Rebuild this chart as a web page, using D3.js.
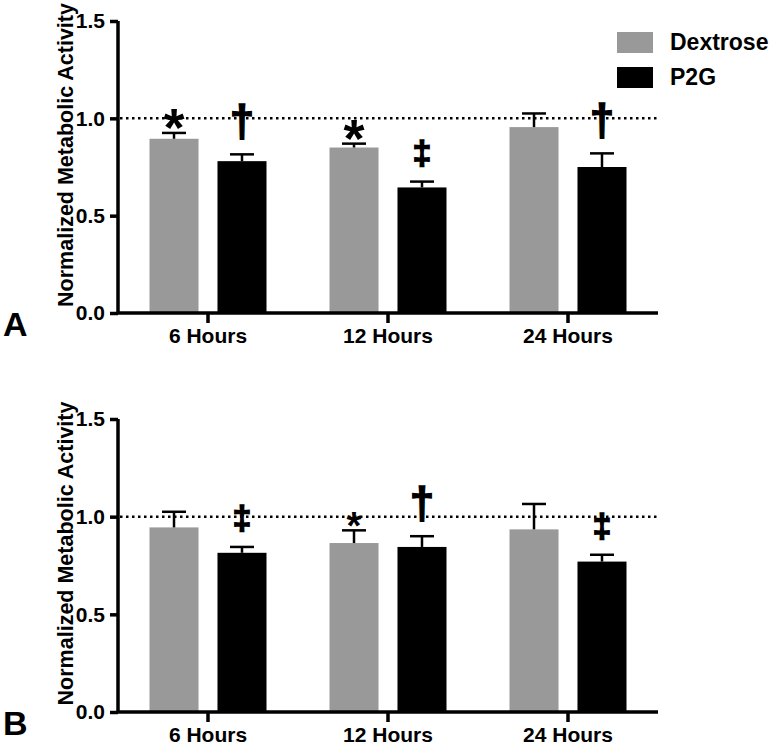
<!DOCTYPE html>
<html><head><meta charset="utf-8">
<script src="https://cdn.jsdelivr.net/npm/d3@7"></script>
<style>body{margin:0;background:#fff}svg{display:block}text{font-family:"Liberation Sans",Arial,sans-serif;font-weight:bold}</style>
</head><body><svg id="c" width="774" height="748"></svg>
<script>
const categories = ["6 Hours", "12 Hours", "24 Hours"];
const series = ["Dextrose", "P2G"];
const yTicks = [0, 0.5, 1.0, 1.5];
const panelLabels = ["A", "B"];
// Panel A
const dextroseA = [0.895, 0.85, 0.955];
const dextroseErrA = [0.03, 0.02, 0.07];
const p2gA = [0.78, 0.645, 0.75];
const p2gErrA = [0.035, 0.03, 0.07];
const dextroseMarkA = ["*", "*", ""];
const p2gMarkA = ["†", "‡", "†"];
// Panel B
const dextroseB = [0.945, 0.865, 0.935];
const dextroseErrB = [0.08, 0.065, 0.13];
const p2gB = [0.815, 0.845, 0.77];
const p2gErrB = [0.03, 0.055, 0.035];
const dextroseMarkB = ["", "*", ""];
const p2gMarkB = ["‡", "†", "‡"];

const colors = {"Dextrose": "#999999", "P2G": "#000000"};
const svg = d3.select("#c");
const FONT = "Liberation Sans, Arial, sans-serif";

function panel(top, bottom, vals, errs, marks, label, bigStar) {
  const y = d3.scaleLinear().domain([0, 1.5]).range([bottom, top]);
  const x = d3.scaleBand().domain(categories).range([118, 658]).padding(0);
  const xs = d3.scaleBand().domain(series).range([31.5, 148.5]).paddingInner(0.279);
  const g = svg.append("g");
  g.append("line").attr("x1", 120).attr("x2", 658).attr("y1", y(1)).attr("y2", y(1))
    .attr("stroke", "#000").attr("stroke-width", 2.5).attr("stroke-dasharray", "2.5,3.5");
  categories.forEach((c, i) => {
    series.forEach((s, j) => {
      const v = vals[j][i], e = errs[j][i];
      const bx = x(c) + xs(s), bw = xs.bandwidth(), cx = bx + bw / 2;
      g.append("rect").attr("x", bx).attr("y", y(v)).attr("width", bw).attr("height", y(0) - y(v))
        .attr("fill", colors[s]);
      g.append("line").attr("x1", cx).attr("x2", cx).attr("y1", y(v)).attr("y2", y(v + e))
        .attr("stroke", "#000").attr("stroke-width", 2.5);
      g.append("line").attr("x1", cx - 12).attr("x2", cx + 12).attr("y1", y(v + e)).attr("y2", y(v + e))
        .attr("stroke", "#000").attr("stroke-width", 2.5);
      const m = marks[j][i];
      if (m) {
        const t = g.append("text").attr("x", cx).attr("text-anchor", "middle").text(m);
        if (m === "*") {
          const fs = bigStar ? 54 : 38;
          t.attr("y", y(v + e) - 4 + fs * 0.32).attr("font-size", fs).attr("font-weight", "bold");
        } else if (m === "†") {
          t.attr("y", y(v + e) - 18).attr("font-size", 44).attr("stroke", "#000").attr("stroke-width", 1.4);
        } else {
          t.attr("y", y(v + e) - 18).attr("font-size", 34).attr("stroke", "#000").attr("stroke-width", 1.4);
        }
      }
    });
  });
  const ya = g.append("g").attr("transform", "translate(118,0)")
    .call(d3.axisLeft(y).tickValues(yTicks).tickFormat(d3.format(".1f")).tickSize(8).tickPadding(5));
  const xa = g.append("g").attr("transform", `translate(0,${bottom})`)
    .call(d3.axisBottom(x).tickSize(10).tickPadding(5));
  [ya, xa].forEach(a => {
    a.select(".domain").attr("stroke-width", 3.5);
    a.selectAll(".tick line").attr("stroke-width", 3.5);
    a.selectAll(".tick text").attr("font-size", 21).attr("font-family", FONT).attr("font-weight", "bold").attr("fill", "#000");
  });
  ya.select(".domain").attr("d", `M0,${top}V${bottom}`);
  xa.select(".domain").attr("d", `M118,0H658`);
  g.append("text").attr("transform", `translate(73,${(top + bottom) / 2 - 12}) rotate(-90)`)
    .attr("text-anchor", "middle").attr("font-size", 21.5).text("Normalized Metabolic Activity");
  g.append("text").attr("x", 3).attr("y", bottom + 23).attr("font-size", 34).text(label);
}

panel(21, 313, [dextroseA, p2gA], [dextroseErrA, p2gErrA], [dextroseMarkA, p2gMarkA], panelLabels[0], true);
panel(419, 712, [dextroseB, p2gB], [dextroseErrB, p2gErrB], [dextroseMarkB, p2gMarkB], panelLabels[1], false);

const leg = svg.append("g").attr("transform", "translate(617,32)");
series.forEach((s, i) => {
  leg.append("rect").attr("x", 0).attr("y", i * 35).attr("width", 36).attr("height", 21).attr("fill", colors[s]);
  leg.append("text").attr("x", 53).attr("y", i * 35 + 18).attr("font-size", 23).text(s);
});
</script></body></html>
